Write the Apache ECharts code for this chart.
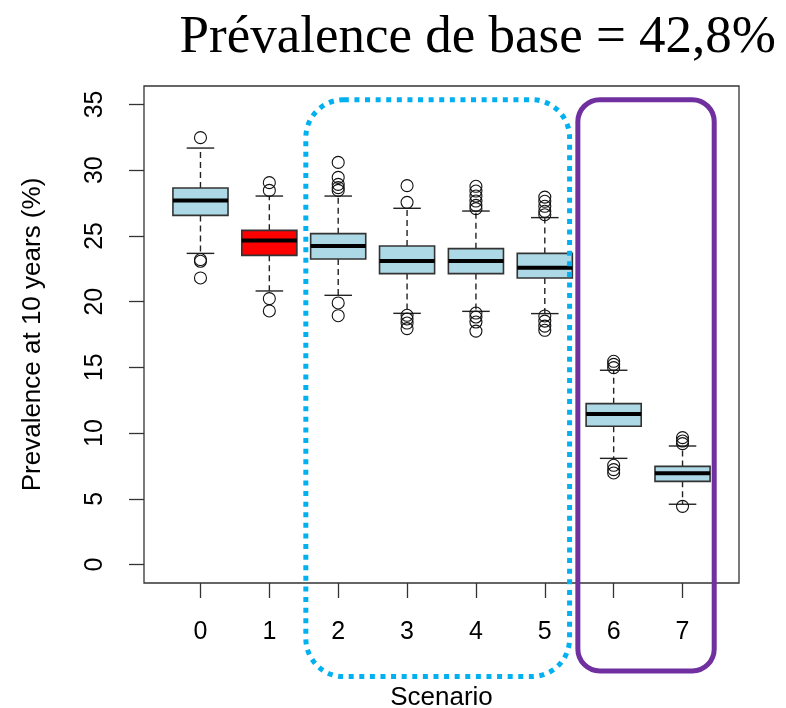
<!DOCTYPE html>
<html>
<head>
<meta charset="utf-8">
<script src="https://cdn.jsdelivr.net/npm/echarts@6/dist/echarts.min.js"></script>
<style>html,body{margin:0;padding:0;background:#fff}#c{width:786px;height:708px}</style>
</head>
<body>
<div id="c"></div>
<script>
// ---- data ----
const categories = ['0','1','2','3','4','5','6','7'];
const lowerWhisker = [23.67, 20.81, 20.48, 19.11, 19.26, 19.09, 8.08, 4.59];
const q1 =           [26.56, 23.52, 23.24, 22.13, 22.13, 21.80, 10.52, 6.33];
const median =       [27.70, 24.64, 24.23, 23.09, 23.09, 22.58, 11.45, 6.94];
const q3 =           [28.64, 25.42, 25.17, 24.23, 24.03, 23.67, 12.24, 7.47];
const upperWhisker = [31.68, 28.03, 28.03, 27.10, 26.89, 26.39, 14.78, 9.02];
const outliers = [
  [32.47, 23.20, 23.07, 21.80],
  [29.05, 28.46, 20.23, 19.29],
  [30.59, 29.45, 28.92, 28.67, 28.46, 19.90, 18.93],
  [28.82, 27.55, 18.96, 18.68, 18.37, 17.95],
  [28.77, 28.41, 28.03, 27.65, 27.32, 27.07, 19.13, 18.83, 18.45, 17.76],
  [27.95, 27.63, 27.25, 26.87, 26.61, 18.91, 18.52, 18.14, 17.82],
  [15.46, 15.23, 14.98, 7.55, 7.22, 6.97],
  [9.66, 9.40, 9.20, 4.43]
];
const highlighted = [1];           // scenario drawn in red
const yTicks = [0, 5, 10, 15, 20, 25, 30, 35];
const titleText = 'Prévalence de base = 42,8%';
const xTitle = 'Scenario';
const yTitle = 'Prevalence at 10 years (%)';
// annotation frames in data units: [xMin, xMax, yMin, yMax]
const groupBlue = [1.53, 5.36, -8.52, 35.36];
const groupPurple = [5.48, 7.46, -8.09, 35.36];

// ---- build ----
const xIdx = categories.map((c, i) => i);
const boxData = xIdx.map(i => [i, lowerWhisker[i], q1[i], median[i], q3[i], upperWhisker[i]]);
const outlierData = [];
outliers.forEach((arr, i) => arr.forEach(v => outlierData.push([i, v])));

const chart = echarts.init(document.getElementById('c'), null, {renderer: 'canvas'});
const SANS = 'Liberation Sans, Arial, sans-serif';

chart.setOption({
  animation: false,
  backgroundColor: '#fff',
  title: {
    text: titleText, right: 5, top: 7,
    textStyle: {fontFamily: 'Liberation Serif, serif', fontSize: 53, fontWeight: 'normal', color: '#000'}
  },
  grid: {left: 144, right: 47, top: 86, bottom: 125, outerBoundsMode: 'none', containLabel: false,
    show: true, borderColor: '#333', borderWidth: 1.3, backgroundColor: 'transparent'},
  xAxis: {
    type: 'value', min: -0.82, max: 7.82,
    name: xTitle, nameLocation: 'middle', nameGap: 102,
    nameTextStyle: {fontFamily: SANS, fontSize: 26, color: '#000'},
    axisLine: {show: false, onZero: false},
    axisTick: {show: true, length: 15, lineStyle: {color: '#333', width: 1.3}, customValues: xIdx},
    axisLabel: {customValues: xIdx, margin: 37, fontFamily: SANS, fontSize: 25, color: '#000',
      formatter: v => categories[Math.round(v)]},
    splitLine: {show: false}
  },
  yAxis: {
    type: 'value', min: -1.4, max: 36.4,
    name: yTitle, nameLocation: 'middle', nameGap: 98,
    nameTextStyle: {fontFamily: SANS, fontSize: 26, color: '#000'},
    axisLine: {show: false, onZero: false},
    axisTick: {show: true, length: 15, lineStyle: {color: '#333', width: 1.3}, customValues: yTicks},
    axisLabel: {customValues: yTicks, rotate: 90, margin: 36, fontFamily: SANS, fontSize: 25, color: '#000'},
    splitLine: {show: false}
  },
  series: [
    {
      type: 'custom',
      data: boxData,
      z: 2,
      renderItem: function (params, api) {
        const i = api.value(0);
        const lo = api.coord([i, api.value(1)]);
        const b1 = api.coord([i, api.value(2)]);
        const md = api.coord([i, api.value(3)]);
        const b3 = api.coord([i, api.value(4)]);
        const hi = api.coord([i, api.value(5)]);
        const hw = api.size([0.8, 0])[0] / 2;
        const cw = api.size([0.4, 0])[0] / 2;
        const cx = md[0];
        const fill = highlighted.indexOf(i) >= 0 ? '#ff0000' : '#add8e6';
        const ls = {stroke: '#222', lineWidth: 1.4, fill: null};
        return {
          type: 'group',
          children: [
            {type: 'line', shape: {x1: cx, y1: b3[1], x2: cx, y2: hi[1]}, style: Object.assign({lineDash: [6, 4]}, ls)},
            {type: 'line', shape: {x1: cx, y1: b1[1], x2: cx, y2: lo[1]}, style: Object.assign({lineDash: [6, 4]}, ls)},
            {type: 'line', shape: {x1: cx - cw, y1: hi[1], x2: cx + cw, y2: hi[1]}, style: ls},
            {type: 'line', shape: {x1: cx - cw, y1: lo[1], x2: cx + cw, y2: lo[1]}, style: ls},
            {type: 'rect', shape: {x: cx - hw, y: b3[1], width: 2 * hw, height: b1[1] - b3[1]},
              style: {fill: fill, stroke: '#333', lineWidth: 1.6}},
            {type: 'line', shape: {x1: cx - hw, y1: md[1], x2: cx + hw, y2: md[1]},
              style: {stroke: '#000', lineWidth: 4}}
          ]
        };
      }
    },
    {
      type: 'scatter',
      data: outlierData,
      z: 3,
      symbol: 'circle',
      symbolSize: 12,
      itemStyle: {color: 'rgba(0,0,0,0)', borderColor: '#111', borderWidth: 1.1, opacity: 1},
      emphasis: {disabled: true}
    }
  ]
});

function frameRect(g) {
  const p1 = chart.convertToPixel({gridIndex: 0}, [g[0], g[3]]);
  const p2 = chart.convertToPixel({gridIndex: 0}, [g[1], g[2]]);
  return {x: p1[0], y: p1[1], width: p2[0] - p1[0], height: p2[1] - p1[1]};
}
const rb = frameRect(groupBlue);
const rp = frameRect(groupPurple);
chart.setOption({
  graphic: [
    {type: 'rect', z: 100, shape: Object.assign({r: 38}, rb),
      style: {fill: null, stroke: '#00b0f0', lineWidth: 5, lineDash: [5, 5.6], lineCap: 'butt'}},
    {type: 'rect', z: 100, shape: Object.assign({r: 22}, rp),
      style: {fill: null, stroke: '#7030a0', lineWidth: 5}}
  ]
});
</script>
</body>
</html>
